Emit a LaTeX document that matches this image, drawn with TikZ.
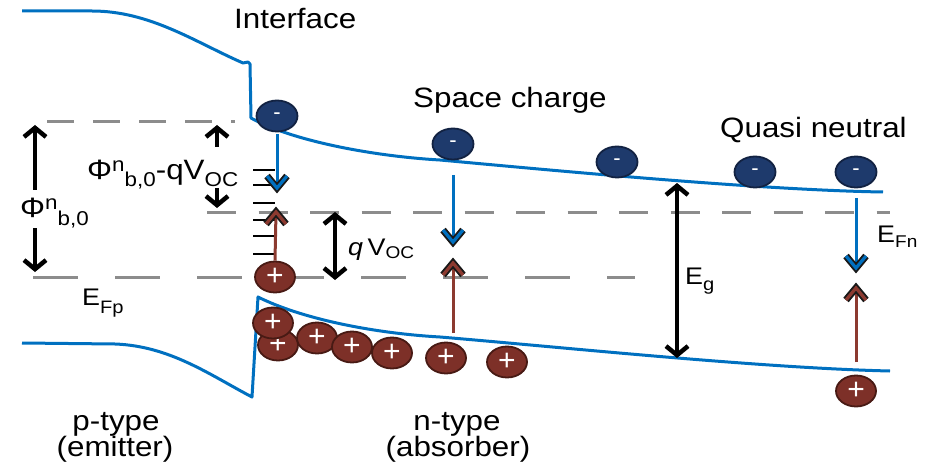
\documentclass[tikz,border=0pt]{standalone}
\usepackage{graphicx}
\usepackage{fontspec}
\setmainfont{Liberation Sans}
\usetikzlibrary{arrows.meta,shapes.geometric}
\definecolor{bandblue}{RGB}{0,112,192}
\definecolor{fgray}{RGB}{140,140,140}
\definecolor{efill}{RGB}{30,58,108}
\definecolor{eedge}{RGB}{18,34,66}
\definecolor{hfill}{RGB}{125,48,40}
\definecolor{hedge}{RGB}{72,26,20}
\definecolor{harrow}{RGB}{140,58,48}
\definecolor{chevedge}{RGB}{25,25,25}
\newcommand\hs[1]{\scalebox{1.12}[1]{#1}}
\newcommand\mysup[3]{\raisebox{#1}{\fontsize{#2}{#2}\selectfont #3}}
\newcommand\mysub[3]{\raisebox{-#1}{\fontsize{#2}{#2}\selectfont #3}}
\begin{document}
\begin{tikzpicture}[x=1pt,y=-1pt,
  band/.style={draw=bandblue, line width=3pt, line join=round},
  fermi/.style={draw=fgray, line width=3pt},
  istate/.style={draw=black, line width=1.6pt},
  elec/.style={ellipse, draw=eedge, fill=efill, line width=1.8pt, minimum width=41pt, minimum height=31pt, inner sep=0pt, text=white, font=\fontsize{22}{22}\selectfont},
  hole/.style={ellipse, draw=hedge, fill=hfill, line width=1.8pt, minimum width=40pt, minimum height=31pt, inner sep=0pt, text=white, font=\fontsize{30}{30}\selectfont},
  eshaft/.style={draw=bandblue, line width=3pt},
  hshaft/.style={draw=harrow, line width=3pt},
  bigarr/.style={line width=4.5pt, -{Straight Barb[length=9pt,width=22pt]}},
  dblarr/.style={line width=4.5pt, {Straight Barb[length=9pt,width=22pt]}-{Straight Barb[length=9pt,width=22pt]}},
  lbl/.style={inner sep=0pt, font=\fontsize{28}{28}\selectfont},
  elbl/.style={inner sep=0pt, font=\fontsize{24}{24}\selectfont},
  pics/chevdn/.style={code={
    \draw[line width=7pt, draw=chevedge, line join=miter] (-10,-12)--(0,0)--(10,-12);
    \draw[line width=3.2pt, draw=#1, line join=miter] (-10,-12)--(0,0)--(10,-12);}},
  pics/chevup/.style={code={
    \draw[line width=7pt, draw=chevedge, line join=miter] (-10,12)--(0,0)--(10,12);
    \draw[line width=3.2pt, draw=#1, line join=miter] (-10,12)--(0,0)--(10,12);}}
]
\useasboundingbox (0,0) rectangle (931,465);

% bands
\draw[band] (22,11) -- (92,11) .. controls (150,11) and (195,42) .. (243,63) -- (248,62) -- (250,64) -- (251,118)
  .. controls (290,140) and (370,156) .. (440,160) .. controls (560,171) and (760,190) .. (883,192);
\draw[band] (22,343) -- (115,344) .. controls (170,346) and (210,375) .. (252,397) -- (258,297)
  .. controls (300,318) and (370,333) .. (440,337) .. controls (560,347) and (760,368) .. (890,371);

% quasi Fermi levels
\coordinate (fu1) at (47,122); \coordinate (fu2) at (235,122);
\coordinate (fm1) at (207,212); \coordinate (fm2) at (890,212);
\coordinate (fl1) at (33,277); \coordinate (fl2) at (635,277);
\draw[fermi, dash pattern=on 27pt off 19pt] (fu1) -- (fu2);
\draw[fermi, dash pattern=on 29pt off 22.5pt] (fm1) -- (fm2);
\draw[fermi, dash pattern=on 45pt off 37pt] (fl1) -- (fl2);

% interface states
\foreach \yy in {170,185,203,220,236,254} \draw[istate] (253,\yy) -- (275,\yy);

% carriers
\node[elec] (e1) at (277,116) {-};
\node[elec] (e2) at (453,144) {-};
\node[elec] (e3) at (617,162) {-};
\node[elec] (e4) at (755,172) {-};
\node[elec] (e5) at (856,172) {-};
\node[hole] (h1) at (275,277) {+};
\node[hole] (h3) at (278,345) {+};
\node[hole] (h2) at (273,323) {+};
\node[hole] (h4) at (317,338) {+};
\node[hole] (h5) at (352,347) {+};
\node[hole] (h6) at (392,353) {+};
\node[hole] (h7) at (446,358) {+};
\node[hole] (h8) at (507,362) {+};
\node[hole] (h9) at (856,391) {+};

% recombination arrows
\coordinate (d1) at (277,188); \coordinate (u1) at (276,212);
\coordinate (b2) at (453,175); \coordinate (d2) at (453,242);
\coordinate (u2) at (453,263); \coordinate (c2) at (453,333);
\coordinate (b3) at (856,198); \coordinate (d3) at (856,268);
\coordinate (u3) at (856,288); \coordinate (c3) at (856,362);
\draw[eshaft] ([yshift=-2pt]e1.south) -- (d1);
\draw[hshaft] (h1.north) -- (u1);
\draw[eshaft] (b2) -- (d2);
\draw[hshaft] (c2) -- (u2);
\draw[eshaft] (b3) -- (d3);
\draw[hshaft] (c3) -- (u3);
\pic at (d1) {chevdn=bandblue};
\pic at (u1) {chevup=harrow};
\pic at (d2) {chevdn=bandblue};
\pic at (u2) {chevup=harrow};
\pic at (d3) {chevdn=bandblue};
\pic at (u3) {chevup=harrow};

% energy arrows
\coordinate (pa1) at (35,190); \coordinate (pa2) at (35,125);
\coordinate (pa3) at (35,228); \coordinate (pa4) at (35,272);
\coordinate (qa1) at (217,147); \coordinate (qa2) at (217,125);
\coordinate (qa3) at (217,188); \coordinate (qa4) at (217,208);
\coordinate (va1) at (335,212); \coordinate (va2) at (335,280);
\coordinate (ga1) at (677,183); \coordinate (ga2) at (677,358);
\draw[bigarr] (pa1) -- (pa2);
\draw[bigarr] (pa3) -- (pa4);
\draw[bigarr] (qa1) -- (qa2);
\draw[bigarr] (qa3) -- (qa4);
\draw[dblarr] (va1) -- (va2);
\draw[dblarr] (ga1) -- (ga2);

% labels
\node[lbl, anchor=base west] (interface) at (234,29) {\hs{Interface}};
\node[lbl, anchor=base west] (space) at (413,108) {\hs{Space charge}};
\node[lbl, anchor=base west] (quasi) at (720,138) {\hs{Quasi neutral}};
\node[lbl, anchor=base] (ptype) at (116,430) {\hs{p-type}};
\node[lbl, anchor=base] (emit) at (115,456) {\hs{(emitter)}};
\node[lbl, anchor=base] (ntype) at (457,430) {\hs{n-type}};
\node[lbl, anchor=base] (absorb) at (458,456) {\hs{(absorber)}};
\node[lbl, anchor=base west] (phib) at (20,218) {\hs{Φ\mysup{9pt}{20}{n}\mysub{7pt}{20}{b,0}}};
\node[lbl, anchor=base west] (phiq) at (87,180) {\hs{Φ\mysup{9pt}{20}{n}\mysub{7pt}{20}{b,0}-qV\mysub{7pt}{20}{OC}}};
\node[elbl, anchor=base west] (efp) at (82,305) {\hs{E\mysub{8pt}{18}{Fp}}};
\node[elbl, anchor=base west] (qv) at (348,255) {\hs{\textit{q}\hspace{4pt}V\mysub{3pt}{17}{OC}}};
\node[elbl, anchor=base west] (eg) at (685,284) {\hs{E\mysub{6pt}{18}{g}}};
\node[elbl, anchor=base west] (efn) at (877,242) {\hs{E\mysub{5pt}{17}{Fn}}};
\end{tikzpicture}
\end{document}
